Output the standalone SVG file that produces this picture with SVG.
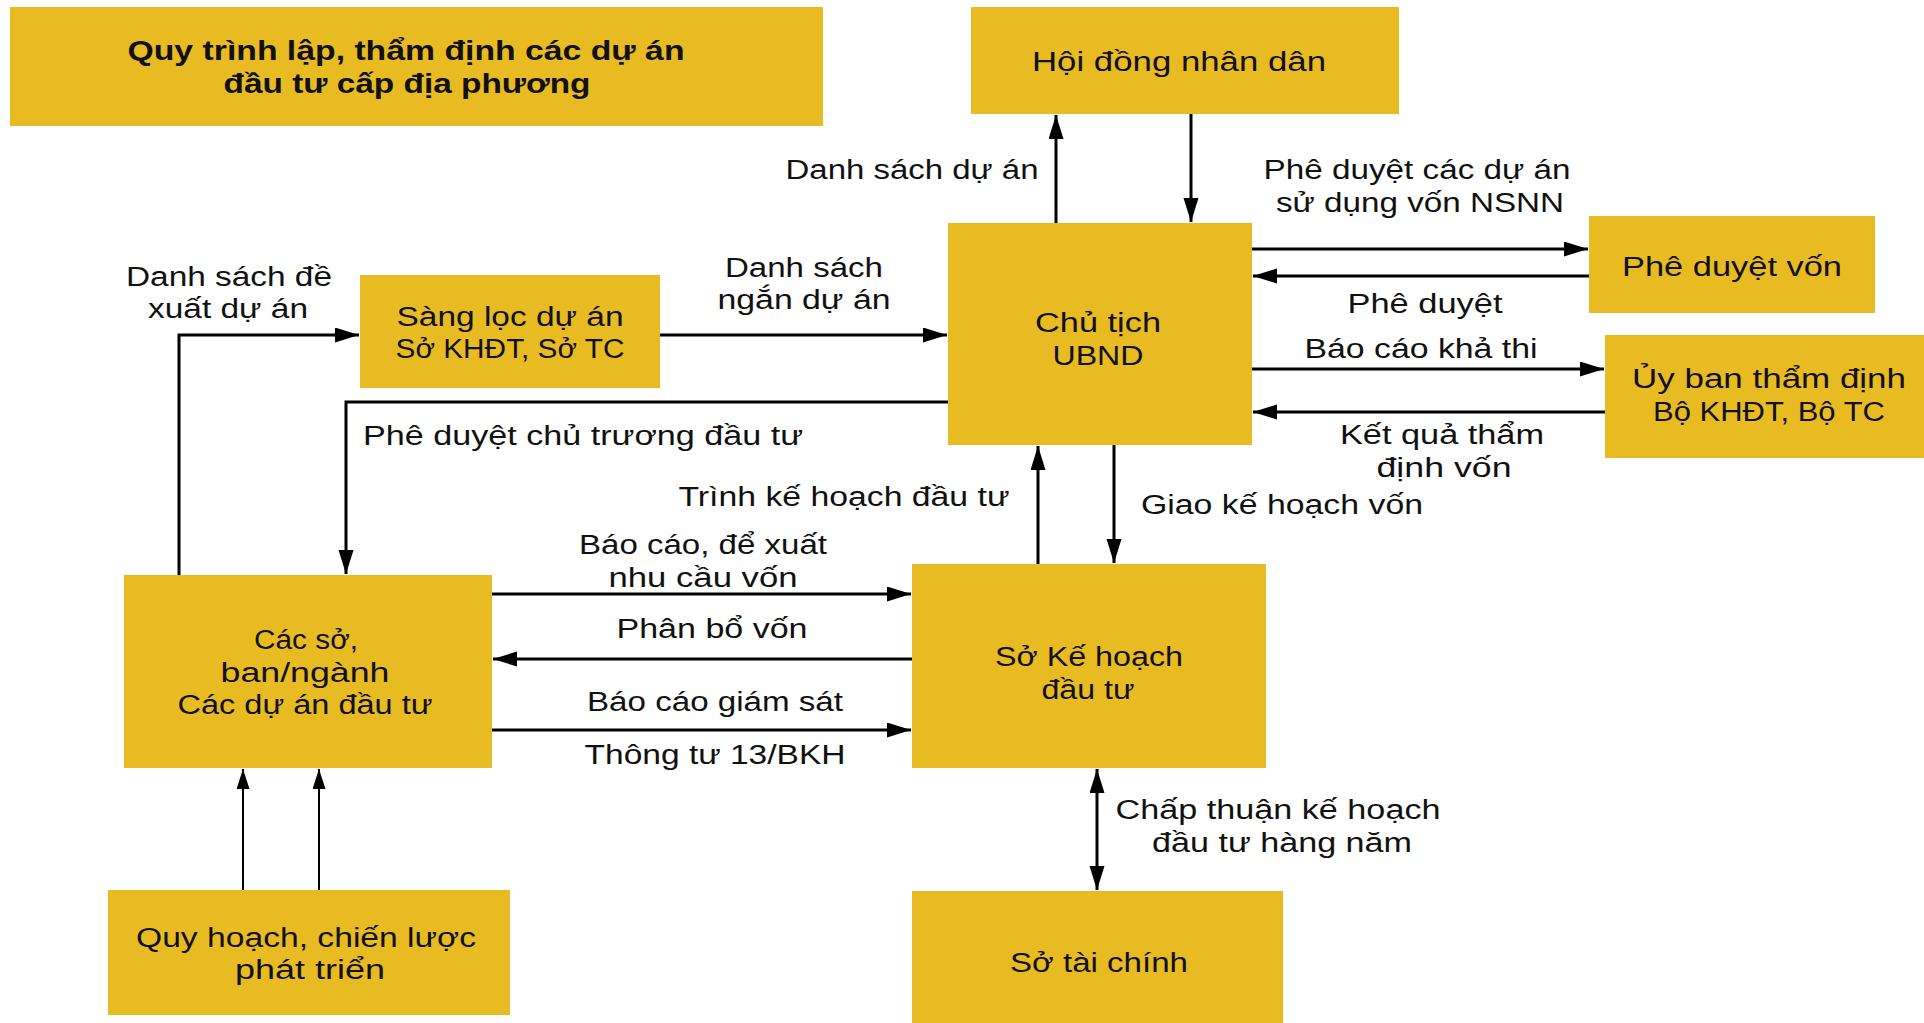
<svg xmlns="http://www.w3.org/2000/svg" width="1924" height="1023" viewBox="0 0 1924 1023">
<style>
.box{fill:#E8BB23}
text{font-family:"Liberation Sans",Arial,sans-serif;font-size:27px;fill:#111;text-anchor:middle}
.t{font-weight:bold}
.l{text-anchor:start}
.c{fill:none;stroke:#000;stroke-width:3}
.c2{fill:none;stroke:#000;stroke-width:2}
</style>
<defs>
<marker id="ah" markerUnits="userSpaceOnUse" markerWidth="26" markerHeight="16" refX="24" refY="7.5" orient="auto-start-reverse"><path d="M0,0 L24,7.5 L0,15 z" fill="#000"/></marker>
<marker id="ah2" markerUnits="userSpaceOnUse" markerWidth="22" markerHeight="14" refX="20" refY="6.5" orient="auto"><path d="M0,0 L20,6.5 L0,13 z" fill="#000"/></marker>
</defs>
<rect width="1924" height="1023" fill="#fff"/>

<g id="title"><rect class="box" x="10" y="7" width="813" height="119"/>
<text class="t" x="406" y="60" textLength="557" lengthAdjust="spacingAndGlyphs">Quy trình lập, thẩm định các dự án</text>
<text class="t" x="407" y="93" textLength="367" lengthAdjust="spacingAndGlyphs">đầu tư cấp địa phương</text></g>

<g id="hdnd"><rect class="box" x="971" y="7" width="428" height="107"/>
<text x="1179" y="71" textLength="294" lengthAdjust="spacingAndGlyphs">Hội đồng nhân dân</text></g>

<g id="chutich"><rect class="box" x="948" y="223" width="304" height="222"/>
<text x="1098" y="332" textLength="126" lengthAdjust="spacingAndGlyphs">Chủ tịch</text>
<text x="1098" y="365" textLength="91" lengthAdjust="spacingAndGlyphs">UBND</text></g>

<g id="pheduyetvon"><rect class="box" x="1589" y="216" width="286" height="97"/>
<text x="1732" y="276" textLength="220" lengthAdjust="spacingAndGlyphs">Phê duyệt vốn</text></g>

<g id="uyban"><rect class="box" x="1605" y="335" width="319" height="123"/>
<text x="1769" y="388" textLength="274" lengthAdjust="spacingAndGlyphs">Ủy ban thẩm định</text>
<text x="1769" y="421" textLength="232" lengthAdjust="spacingAndGlyphs">Bộ KHĐT, Bộ TC</text></g>

<g id="sangloc"><rect class="box" x="360" y="275" width="300" height="113"/>
<text x="510" y="326" textLength="227" lengthAdjust="spacingAndGlyphs">Sàng lọc dự án</text>
<text x="510" y="358" textLength="229" lengthAdjust="spacingAndGlyphs">Sở KHĐT, Sở TC</text></g>

<g id="caccso"><rect class="box" x="124" y="575" width="368" height="193"/>
<text x="306" y="649" textLength="104" lengthAdjust="spacingAndGlyphs">Các sở,</text>
<text x="305" y="682" textLength="169" lengthAdjust="spacingAndGlyphs">ban/ngành</text>
<text x="305" y="714" textLength="255" lengthAdjust="spacingAndGlyphs">Các dự án đầu tư</text></g>

<g id="sokh"><rect class="box" x="912" y="564" width="354" height="204"/>
<text x="1089" y="666" textLength="188" lengthAdjust="spacingAndGlyphs">Sở Kế hoạch</text>
<text x="1088" y="699" textLength="93" lengthAdjust="spacingAndGlyphs">đầu tư</text></g>

<g id="quyhoach"><rect class="box" x="108" y="890" width="402" height="125"/>
<text x="306" y="947" textLength="340" lengthAdjust="spacingAndGlyphs">Quy hoạch, chiến lược</text>
<text x="310" y="979" textLength="150" lengthAdjust="spacingAndGlyphs">phát triển</text></g>

<g id="sotaichinh"><rect class="box" x="912" y="891" width="371" height="132"/>
<text x="1099" y="972" textLength="178" lengthAdjust="spacingAndGlyphs">Sở tài chính</text></g>

<g id="connectors">
<path class="c" d="M1056,223 V115" marker-end="url(#ah)"/>
<path class="c" d="M1191,114 V222" marker-end="url(#ah)"/>
<path class="c" d="M1252,249 H1588" marker-end="url(#ah)"/>
<path class="c" d="M1589,276 H1253" marker-end="url(#ah)"/>
<path class="c" d="M1252,369 H1604" marker-end="url(#ah)"/>
<path class="c" d="M1605,412 H1253" marker-end="url(#ah)"/>
<path class="c" d="M660,335 H947" marker-end="url(#ah)"/>
<path class="c" d="M179,575 V335 H359" marker-end="url(#ah)"/>
<path class="c" d="M948,402 H346 V574" marker-end="url(#ah)"/>
<path class="c" d="M1038,564 V446" marker-end="url(#ah)"/>
<path class="c" d="M1114,445 V563" marker-end="url(#ah)"/>
<path class="c" d="M492,594 H911" marker-end="url(#ah)"/>
<path class="c" d="M912,659 H493" marker-end="url(#ah)"/>
<path class="c" d="M492,730 H911" marker-end="url(#ah)"/>
<path class="c" d="M1097,769 V890" marker-start="url(#ah)" marker-end="url(#ah)"/>
<path class="c2" d="M243,890 V769" marker-end="url(#ah2)"/>
<path class="c2" d="M319,890 V769" marker-end="url(#ah2)"/>
</g>

<g id="labels">
<text x="912" y="179" textLength="253" lengthAdjust="spacingAndGlyphs">Danh sách dự án</text>
<text x="1417" y="179" textLength="307" lengthAdjust="spacingAndGlyphs">Phê duyệt các dự án</text>
<text x="1420" y="212" textLength="288" lengthAdjust="spacingAndGlyphs">sử dụng vốn NSNN</text>
<text x="1425" y="313" textLength="155" lengthAdjust="spacingAndGlyphs">Phê duyệt</text>
<text x="1421" y="358" textLength="233" lengthAdjust="spacingAndGlyphs">Báo cáo khả thi</text>
<text x="1442" y="444" textLength="204" lengthAdjust="spacingAndGlyphs">Kết quả thẩm</text>
<text x="1444" y="477" textLength="135" lengthAdjust="spacingAndGlyphs">định vốn</text>
<text x="229" y="286" textLength="206" lengthAdjust="spacingAndGlyphs">Danh sách đề</text>
<text x="228" y="318" textLength="160" lengthAdjust="spacingAndGlyphs">xuất dự án</text>
<text x="804" y="277" textLength="158" lengthAdjust="spacingAndGlyphs">Danh sách</text>
<text x="804" y="309" textLength="173" lengthAdjust="spacingAndGlyphs">ngắn dự án</text>
<text class="l" x="363" y="445" textLength="440" lengthAdjust="spacingAndGlyphs">Phê duyệt chủ trương đầu tư</text>
<text x="844" y="506" textLength="331" lengthAdjust="spacingAndGlyphs">Trình kế hoạch đầu tư</text>
<text x="1282" y="514" textLength="282" lengthAdjust="spacingAndGlyphs">Giao kế hoạch vốn</text>
<text x="703" y="554" textLength="248" lengthAdjust="spacingAndGlyphs">Báo cáo, để xuất</text>
<text x="703" y="587" textLength="189" lengthAdjust="spacingAndGlyphs">nhu cầu vốn</text>
<text x="712" y="638" textLength="191" lengthAdjust="spacingAndGlyphs">Phân bổ vốn</text>
<text x="715" y="711" textLength="256" lengthAdjust="spacingAndGlyphs">Báo cáo giám sát</text>
<text x="715" y="764" textLength="261" lengthAdjust="spacingAndGlyphs">Thông tư 13/BKH</text>
<text x="1278" y="819" textLength="325" lengthAdjust="spacingAndGlyphs">Chấp thuận kế hoạch</text>
<text x="1282" y="852" textLength="260" lengthAdjust="spacingAndGlyphs">đầu tư hàng năm</text>
</g>
</svg>
